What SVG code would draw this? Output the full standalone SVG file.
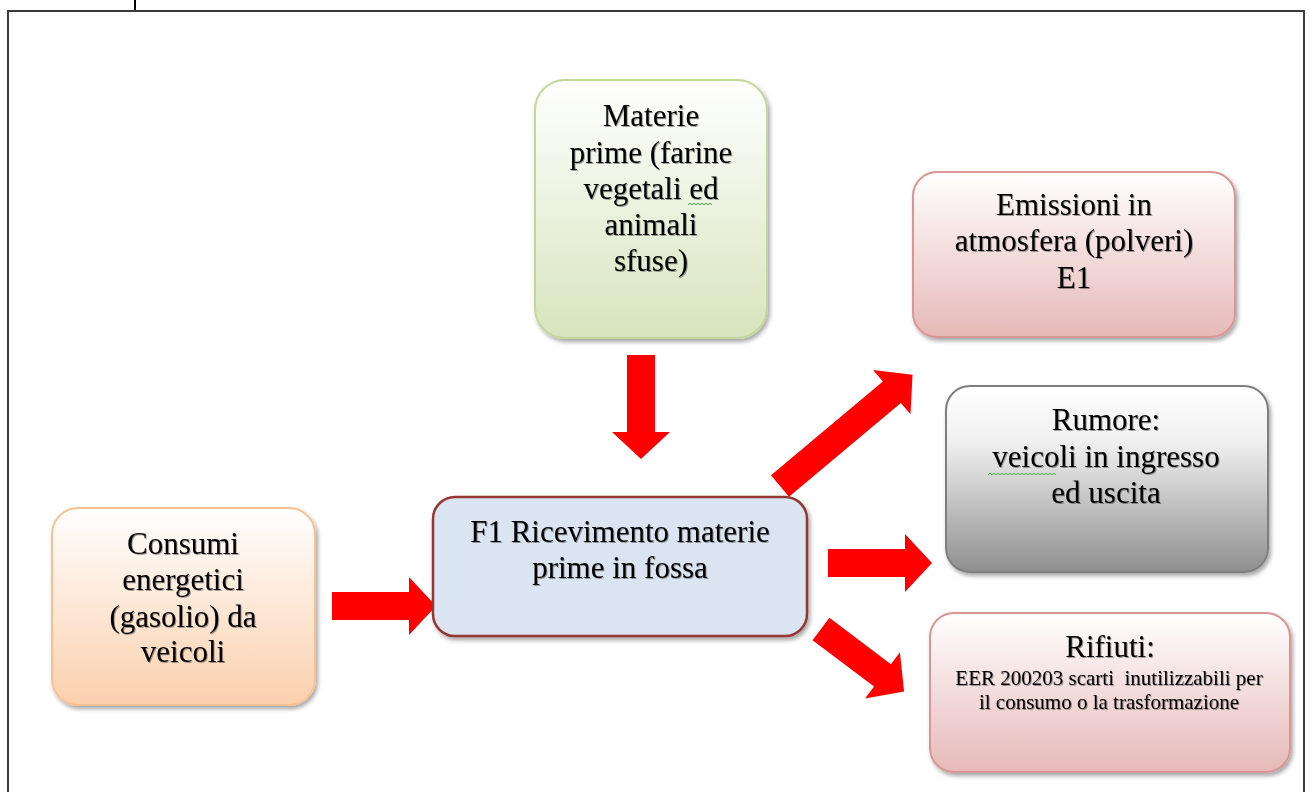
<svg xmlns="http://www.w3.org/2000/svg" width="1310" height="792" viewBox="0 0 1310 792">
  <style>
    .lbl { font-family: "Liberation Serif", "Times New Roman", serif; font-size: 31px; fill: #000; text-anchor: middle; filter: url(#textShadow); }
    .sm { font-size: 21px; }
    .arrow { fill: #ff0000; }
    .squiggle { fill: none; stroke: #3cb043; stroke-width: 1; }
  </style>
  <defs>
    <linearGradient id="gGreen" x1="0" y1="0" x2="0" y2="1">
      <stop offset="0" stop-color="#ffffff"/>
      <stop offset="1" stop-color="#d7e4bd"/>
    </linearGradient>
    <linearGradient id="gPink" x1="0" y1="0" x2="0" y2="1">
      <stop offset="0" stop-color="#ffffff"/>
      <stop offset="1" stop-color="#e6b9b8"/>
    </linearGradient>
    <linearGradient id="gGray" x1="0" y1="0" x2="0" y2="1">
      <stop offset="0" stop-color="#ffffff"/>
      <stop offset="0.3" stop-color="#f0f0f0"/>
      <stop offset="1" stop-color="#8f8f8f"/>
    </linearGradient>
    <linearGradient id="gOrange" x1="0" y1="0" x2="0" y2="1">
      <stop offset="0" stop-color="#ffffff"/>
      <stop offset="1" stop-color="#fbd0ad"/>
    </linearGradient>
    <filter id="shadow" x="-10%" y="-10%" width="125%" height="130%">
      <feDropShadow dx="2" dy="3" stdDeviation="2" flood-color="#000" flood-opacity="0.35"/>
    </filter>
    <filter id="textShadow" x="-5%" y="-20%" width="110%" height="150%">
      <feDropShadow dx="1" dy="1" stdDeviation="0.6" flood-color="#000" flood-opacity="0.35"/>
    </filter>
    <!-- block arrow pointing along +x, origin at tail centre -->
    <path id="arrow104" d="M0,-14 H77 V-29 L104,0 L77,29 V14 H0 Z"/>
    <path id="arrow173" d="M0,-14 H146 V-29 L173,0 L146,29 V14 H0 Z"/>
  </defs>

  <!-- page frame -->
  <g id="frame" fill="none" stroke="#3a3a3a" stroke-width="2">
    <path d="M8,792 V11 H1304 V792"/>
    <line x1="135" y1="0" x2="135" y2="10" stroke="#000" stroke-width="2"/>
  </g>

  <g id="connectors" class="arrow">
    <!-- raw materials down into F1 -->
    <use href="#arrow104" transform="translate(641,355) rotate(90)"/>
    <!-- energy consumption into F1 -->
    <use href="#arrow104" transform="translate(332,606)"/>
    <!-- F1 to emissions -->
    <use href="#arrow173" transform="translate(780,486) rotate(-40)"/>
    <!-- F1 to noise -->
    <use href="#arrow104" transform="translate(828,563)"/>
    <!-- F1 to waste -->
    <use href="#arrow104" transform="translate(821,629) rotate(37)"/>
  </g>

  <g id="node-materie">
    <rect x="535" y="80" width="232" height="258" rx="30" fill="url(#gGreen)" stroke="#c3d69b" stroke-width="2" filter="url(#shadow)"/>
    <text class="lbl" x="651" y="126">Materie</text>
    <text class="lbl" x="651" y="163">prime (farine</text>
    <text class="lbl" x="651" y="199">vegetali ed</text>
    <text class="lbl" x="651" y="235">animali</text>
    <text class="lbl" x="651" y="271">sfuse)</text>
    <path class="squiggle" d="M688,205 l2,-2 l2,2 l2,-2 l2,2 l2,-2 l2,2 l2,-2 l2,2 l2,-2 l2,2 l2,-2 l2,2"/>
  </g>

  <g id="node-emissioni">
    <rect x="913" y="172" width="322" height="165" rx="24" fill="url(#gPink)" stroke="#d99694" stroke-width="2" filter="url(#shadow)"/>
    <text class="lbl" x="1074" y="215">Emissioni in</text>
    <text class="lbl" x="1074" y="251">atmosfera (polveri)</text>
    <text class="lbl" x="1074" y="288">E1</text>
  </g>

  <g id="node-rumore">
    <rect x="946" y="386" width="322" height="186" rx="24" fill="url(#gGray)" stroke="#7f7f7f" stroke-width="2" filter="url(#shadow)"/>
    <text class="lbl" x="1106" y="430">Rumore:</text>
    <text class="lbl" x="1106" y="467">veicoli in ingresso</text>
    <text class="lbl" x="1106" y="503">ed uscita</text>
    <path class="squiggle" d="M988,475 l2,-2 l2,2 l2,-2 l2,2 l2,-2 l2,2 l2,-2 l2,2 l2,-2 l2,2 l2,-2 l2,2 l2,-2 l2,2 l2,-2 l2,2 l2,-2 l2,2 l2,-2 l2,2 l2,-2 l2,2 l2,-2 l2,2 l2,-2 l2,2 l2,-2 l2,2 l2,-2 l2,2 l2,-2 l2,2 l2,-2 l2,2"/>
  </g>

  <g id="node-rifiuti">
    <rect x="930" y="613" width="360" height="159" rx="24" fill="url(#gPink)" stroke="#d99694" stroke-width="2" filter="url(#shadow)"/>
    <text class="lbl" x="1110" y="657">Rifiuti:</text>
    <text class="lbl sm" x="1109" y="685" xml:space="preserve">EER 200203 scarti  inutilizzabili per</text>
    <text class="lbl sm" x="1109" y="709">il consumo o la trasformazione</text>
  </g>

  <g id="node-consumi">
    <rect x="52" y="508" width="263" height="197" rx="26" fill="url(#gOrange)" stroke="#fac090" stroke-width="2" filter="url(#shadow)"/>
    <text class="lbl" x="183" y="554">Consumi</text>
    <text class="lbl" x="183" y="590">energetici</text>
    <text class="lbl" x="183" y="627">(gasolio) da</text>
    <text class="lbl" x="183" y="662">veicoli</text>
  </g>

  <g id="node-f1">
    <rect x="433" y="497" width="374" height="139" rx="22" fill="#dbe5f1" stroke="#953735" stroke-width="2.5" filter="url(#shadow)"/>
    <text class="lbl" x="620" y="542">F1 Ricevimento materie</text>
    <text class="lbl" x="620" y="578">prime in fossa</text>
  </g>
</svg>
